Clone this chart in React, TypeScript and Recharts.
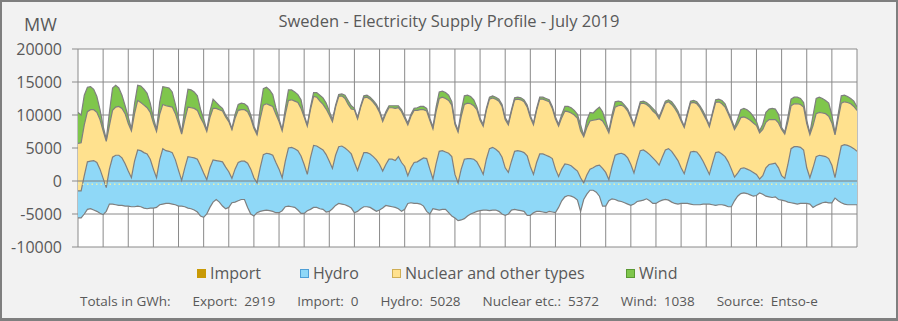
import React from 'react';
import { ComposedChart, Area, XAxis, YAxis, CartesianGrid, ReferenceLine } from 'recharts';

const FONT = '"Open Sans", "Liberation Sans", sans-serif';
const TEXT = '#595959';
const BLUE = '#8fd8f7';
const YELLOW = '#ffe18e';
const GREEN = '#7fc64c';
const IMPORT = '#c99a06';
const LINE = '#7f7f7f';
const GRID = '#8a8a8a';

const yTicks = [-10000, -5000, 0, 5000, 10000, 15000, 20000];
// day boundaries (hours from 1 July 00:00)
const dayTicks = Array.from({ length: 32 }, (_, d) => d * 24);
// samples every 3 hours, July 1 00:00 .. Aug 1 00:00
const hours = Array.from({ length: 249 }, (_, i) => i * 3);

// MW, negative = export
const exportMW = [
  -5600, -5600, -5000, -4300, -4200, -4400, -4600, -4900,
  -5100, -4600, -3500, -3500, -3600, -3700, -3700, -3800,
  -3800, -3900, -3900, -3800, -3900, -4100, -4200, -4100,
  -4100, -4000, -3600, -3500, -3400, -3400, -3500, -3600,
  -3800, -3800, -3900, -4100, -4200, -4400, -4700, -5300,
  -5500, -5000, -4000, -3200, -2800, -3200, -3800, -4200,
  -4000, -3300, -3200, -3000, -2800, -2800, -4000, -5000,
  -5300, -4800, -4600, -4500, -4400, -4500, -4600, -4800,
  -4800, -4500, -3900, -3800, -3900, -4000, -4400, -4900,
  -4900, -4500, -4300, -4000, -4000, -4200, -4300, -4700,
  -4600, -4200, -3700, -3400, -3500, -3600, -3800, -4100,
  -4800, -4600, -4200, -3900, -3900, -4000, -4300, -4600,
  -4400, -4100, -3700, -3800, -3900, -4000, -4200, -4600,
  -4300, -3400, -3300, -3400, -3400, -3500, -3800, -4600,
  -5000, -4200, -4300, -4400, -4300, -4300, -4800, -5300,
  -5600, -6000, -5900, -5700, -5300, -5000, -4800, -4600,
  -4500, -4400, -4400, -4500, -4400, -4400, -4600, -5000,
  -5200, -5000, -4400, -4300, -4400, -4500, -4600, -5200,
  -5200, -4800, -4600, -4600, -4700, -4800, -4600, -4700,
  -4800, -4000, -3000, -2400, -2200, -2300, -2500, -2900,
  -4600, -2800, -2000, -1400, -1400, -1700, -2300, -3800,
  -3800, -3000, -2700, -2800, -3000, -3100, -3300, -3500,
  -3700, -3500, -3100, -3000, -2900, -2700, -3000, -3400,
  -3400, -3100, -2900, -2800, -2900, -3200, -3400, -3500,
  -3400, -3400, -3400, -3500, -3600, -3600, -3600, -3500,
  -3500, -3500, -3600, -3700, -3600, -3600, -3700, -3900,
  -3900, -3000, -2300, -1900, -1800, -1900, -2100, -2300,
  -2200, -1800, -2000, -2300, -2400, -2500, -2400, -2800,
  -2900, -3000, -3200, -3300, -3400, -3500, -3400, -3400,
  -3400, -3500, -4000, -3700, -3500, -3300, -3200, -3300,
  -3300, -2600, -3000, -3300, -3500, -3600, -3600, -3600,
  -3600,
];

const hydroMW = [
  4100, 4100, 5800, 7200, 7200, 7500, 7400, 6700,
  5500, 3600, 5300, 7100, 7500, 7600, 7200, 6400,
  5300, 4400, 6900, 8500, 8500, 8400, 8300, 7400,
  5900, 4500, 6800, 8400, 8000, 7900, 7800, 6800,
  5400, 3900, 5900, 7800, 7800, 7900, 8000, 7600,
  6700, 5200, 6000, 6400, 5900, 6200, 6700, 6300,
  5400, 3700, 5000, 5800, 5800, 5800, 6700, 6800,
  5800, 4500, 6600, 8500, 8600, 8600, 8500, 7600,
  6600, 5000, 6900, 8800, 9000, 8900, 9000, 8700,
  7400, 5500, 7800, 9400, 9300, 9200, 9000, 8700,
  7600, 6100, 7600, 8600, 8800, 8600, 8400, 8200,
  7600, 6200, 7200, 8200, 8200, 8100, 8000, 7800,
  6900, 5600, 6200, 7100, 7200, 7100, 7900, 7400,
  6500, 4200, 5300, 6200, 6300, 6700, 7300, 8000,
  6800, 4500, 6900, 8900, 8900, 8700, 9000, 9000,
  6600, 5700, 7700, 9000, 8700, 8400, 8100, 7500,
  6500, 5400, 7700, 9400, 9500, 9200, 9000, 8600,
  7200, 6300, 7400, 8800, 9000, 9000, 8900, 9000,
  7400, 5800, 7400, 8700, 8800, 8700, 8300, 8100,
  6600, 4700, 4800, 5000, 4700, 4600, 4400, 4400,
  5100, 2500, 2900, 3200, 3400, 4000, 4700, 5700,
  5100, 3200, 4900, 6700, 7100, 7300, 7300, 7000,
  6200, 4700, 6100, 7600, 7600, 7100, 7000, 6900,
  6400, 5500, 6500, 7500, 7800, 7700, 7200, 6600,
  5400, 4500, 6200, 7900, 8100, 8000, 7400, 6500,
  5500, 4500, 6300, 8000, 8000, 7700, 7400, 6800,
  5700, 3600, 3500, 3800, 3800, 3700, 3700, 3600,
  3200, 2100, 2800, 4300, 4900, 5100, 5100, 4800,
  3700, 3400, 5700, 8200, 8600, 8700, 8500, 8100,
  5400, 4000, 6000, 7400, 7400, 7100, 6900, 6700,
  5700, 3100, 6000, 8600, 9000, 9000, 8800, 8500,
  8100,
];

const nuclearMW = [
  7200, 7300, 7700, 7600, 7800, 7700, 7600, 7500,
  7200, 7000, 6600, 7100, 7300, 7400, 7500, 7600,
  7200, 7100, 7200, 7500, 7300, 7200, 7000, 7100,
  7000, 7000, 6900, 6700, 6800, 6800, 6900, 7000,
  7100, 7000, 7300, 7500, 7500, 7500, 7400, 7300,
  7500, 7300, 7600, 7800, 7900, 7800, 7700, 7600,
  7600, 7400, 7700, 7900, 7800, 7800, 7800, 7700,
  7500, 7300, 7400, 7500, 7500, 7400, 7400, 7300,
  7200, 7100, 7100, 7200, 7200, 7200, 7300, 7200,
  7200, 7300, 7300, 7400, 7400, 7100, 6900, 6900,
  7000, 7100, 7300, 7600, 7600, 7500, 7000, 6800,
  8000, 7800, 8200, 8300, 8400, 8300, 8200, 8100,
  7900, 7500, 7700, 7800, 7800, 7900, 7400, 7700,
  7300, 7700, 7800, 7900, 7800, 7600, 7300, 7200,
  7400, 7600, 7900, 8000, 8100, 8100, 8000, 7800,
  7600, 7700, 8000, 8300, 8400, 8300, 8100, 7900,
  7200, 7300, 7400, 7500, 7500, 7600, 7700, 7700,
  7300, 7200, 7500, 7800, 7800, 7800, 7700, 7400,
  7400, 7500, 7900, 8300, 8300, 8300, 8300, 7600,
  7600, 7600, 7800, 8000, 8000, 8000, 8100, 8000,
  7100, 7000, 7200, 7300, 7200, 7000, 7000, 7200,
  7000, 7100, 7200, 7300, 7300, 7300, 7200, 7100,
  7000, 7100, 7000, 7100, 7100, 7200, 7200, 7100,
  7200, 7000, 7000, 7100, 7100, 7100, 7200, 7100,
  7100, 7000, 7200, 7400, 7400, 7300, 7300, 7200,
  7300, 7200, 7400, 7600, 7600, 7600, 7500, 7300,
  7300, 7200, 7400, 7700, 7700, 7700, 7600, 7500,
  7400, 7000, 7000, 6900, 6800, 6700, 6600, 6800,
  7000, 6700, 6500, 6500, 6500, 6500, 6500, 6500,
  6700, 6500, 6400, 6500, 6500, 6500, 6500, 6400,
  6400, 6500, 6400, 6500, 6500, 6500, 6500, 6400,
  6200,
];

const windMW = [
  4700, 4200, 4500, 3700, 3500, 3100, 2400, 1500,
  700, 300, 2000, 3400, 3300, 2800, 2000, 1200,
  1000, 300, 1500, 2300, 2500, 2400, 2200, 1400,
  800, 300, 1800, 2700, 2800, 2800, 2300, 1400,
  800, 300, 1700, 2700, 2700, 2500, 2200, 1300,
  700, 200, 900, 1400, 900, 600, 400, 300,
  300, 150, 600, 900, 1000, 900, 800, 500,
  300, 300, 1500, 2500, 2500, 2300, 1800, 1000,
  400, 200, 900, 1600, 1500, 1400, 1200, 1300,
  300, 200, 400, 600, 700, 900, 1000, 900,
  600, 300, 300, 300, 300, 500, 600, 500,
  200, 200, 200, 300, 300, 300, 300, 300,
  300, 300, 300, 300, 300, 400, 300, 300,
  300, 300, 300, 300, 400, 500, 500, 400,
  300, 300, 700, 1000, 900, 900, 800, 500,
  300, 300, 800, 1300, 1200, 1100, 900, 400,
  300, 300, 300, 300, 300, 300, 300, 300,
  300, 300, 300, 300, 300, 300, 300, 300,
  300, 300, 300, 300, 300, 300, 300, 300,
  300, 300, 500, 700, 800, 800, 700, 600,
  900, 200, 1100, 1300, 1100, 1500, 1800, 1400,
  800, 300, 600, 800, 700, 500, 300, 300,
  300, 300, 300, 300, 300, 300, 300, 400,
  300, 300, 300, 300, 300, 400, 400, 400,
  300, 200, 300, 300, 300, 300, 300, 400,
  300, 300, 300, 400, 400, 500, 500, 300,
  300, 300, 800, 1200, 1300, 1300, 1200, 1000,
  600, 300, 800, 1500, 1600, 1700, 1600, 1300,
  300, 300, 700, 1000, 1000, 1000, 900, 700,
  500, 300, 1500, 2300, 2300, 2200, 2000, 2000,
  1200, 300, 700, 1100, 1000, 900, 800, 800,
  500,
];

const legendItems = [
  { label: 'Import', fill: IMPORT, border: IMPORT, left: 197 },
  { label: 'Hydro', fill: BLUE, border: '#4f9fd6', left: 300 },
  { label: 'Nuclear and other types', fill: YELLOW, border: '#cfae55', left: 392 },
  { label: 'Wind', fill: GREEN, border: '#5a9933', left: 626 },
];

const totals = [
  { label: 'Totals in GWh:', value: '' },
  { label: 'Export:', value: '2919' },
  { label: 'Import:', value: '0' },
  { label: 'Hydro:', value: '5028' },
  { label: 'Nuclear etc.:', value: '5372' },
  { label: 'Wind:', value: '1038' },
  { label: 'Source:', value: 'Entso-e' },
];

const data = hours.map((hour, i) => ({
  hour,
  export: exportMW[i],
  hydro: hydroMW[i],
  nuclear: nuclearMW[i],
  wind: windMW[i],
}));

const series = [
  { key: 'export', fill: BLUE },
  { key: 'hydro', fill: BLUE },
  { key: 'nuclear', fill: YELLOW },
  { key: 'wind', fill: GREEN },
];

const NoTick = () => <g />;

export default function App() {
  return (
    <div
      style={{
        position: 'absolute',
        left: 0,
        top: 0,
        width: 898,
        height: 321,
        background: '#f2f2f2',
        fontFamily: FONT,
        color: TEXT,
        overflow: 'hidden',
      }}
    >
      <div style={{ position: 'absolute', left: 0, top: 0 }}>
        <ComposedChart
          width={898}
          height={321}
          data={data}
          margin={{ top: 49, right: 41, bottom: 74, left: 0 }}
        >
          <CartesianGrid stroke={GRID} strokeWidth={1} fill="#ffffff" />
          <XAxis
            dataKey="hour"
            type="number"
            domain={[0, 744]}
            ticks={dayTicks}
            interval={0}
            tick={NoTick}
            tickLine={false}
            axisLine={false}
            height={0}
            allowDataOverflow
          />
          <YAxis
            type="number"
            domain={[-10000, 20000]}
            ticks={yTicks}
            interval={0}
            width={78}
            tickSize={6}
            tickMargin={10}
            axisLine={false}
            tickLine={{ stroke: GRID }}
            tick={{ fill: TEXT, fontSize: 16, fontFamily: FONT }}
            allowDataOverflow
          />
          {series.map((s) => (
            <Area
              key={'f-' + s.key}
              type="linear"
              dataKey={s.key}
              stackId="fill"
              stroke="none"
              fill={s.fill}
              fillOpacity={1}
              dot={false}
              activeDot={false}
              isAnimationActive={false}
            />
          ))}
          {series.map((s) => (
            <Area
              key={'l-' + s.key}
              type="linear"
              dataKey={s.key}
              stackId="line"
              stroke={LINE}
              strokeWidth={1.2}
              fill="none"
              fillOpacity={0}
              dot={false}
              activeDot={false}
              isAnimationActive={false}
            />
          ))}
          <ReferenceLine y={-500} stroke="#eaeeaa" strokeWidth={1.5} strokeDasharray="1.5 3" />
          <ReferenceLine y={0} stroke={LINE} strokeWidth={1.2} />
        </ComposedChart>
      </div>

      <div
        style={{
          position: 'absolute',
          left: 0,
          top: 10,
          width: 898,
          textAlign: 'center',
          fontSize: 16.5,
          lineHeight: '22px',
        }}
      >
        Sweden - Electricity Supply Profile - July 2019
      </div>
      <div style={{ position: 'absolute', left: 24, top: 11, fontSize: 18, lineHeight: '26px' }}>MW</div>

      {legendItems.map((it) => (
        <div
          key={it.label}
          style={{
            position: 'absolute',
            left: it.left,
            top: 262,
            height: 22,
            display: 'flex',
            alignItems: 'center',
            whiteSpace: 'nowrap',
            fontSize: 16,
          }}
        >
          <span
            style={{
              display: 'inline-block',
              width: 9,
              height: 9,
              boxSizing: 'border-box',
              background: it.fill,
              border: '1px solid ' + it.border,
              marginRight: 4,
            }}
          />
          <span>{it.label}</span>
        </div>
      ))}

      <div
        style={{
          position: 'absolute',
          left: 80,
          top: 291,
          height: 20,
          display: 'flex',
          alignItems: 'center',
          whiteSpace: 'nowrap',
          fontSize: 13.5,
        }}
      >
        {totals.map((t, i) => (
          <span key={t.label} style={{ marginRight: i === totals.length - 1 ? 0 : 22 }}>
            <span>{t.label}</span>
            {t.value !== '' ? <span style={{ marginLeft: 7 }}>{t.value}</span> : null}
          </span>
        ))}
      </div>

      <div
        style={{
          position: 'absolute',
          left: 0,
          top: 0,
          width: 898,
          height: 321,
          boxSizing: 'border-box',
          borderStyle: 'solid',
          borderColor: '#7f7f7f',
          borderWidth: '2px 2px 3px 2px',
          pointerEvents: 'none',
        }}
      />
    </div>
  );
}
